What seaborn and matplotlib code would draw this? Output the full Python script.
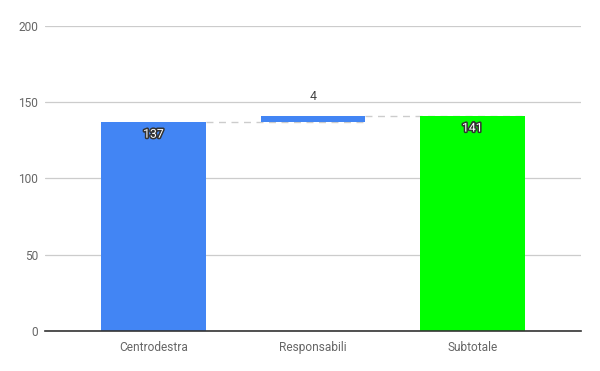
import matplotlib
matplotlib.use("Agg")
import matplotlib.pyplot as plt
import matplotlib.patheffects as pe
import seaborn as sns

# dati del grafico a cascata
categorie = ["Centrodestra", "Responsabili", "Subtotale"]
valori = [137, 4, 141]
basi = [0, 137, 0]
colori = ["#4285f4", "#4285f4", "#00ff00"]
etichette = ["137", "4", "141"]

sns.set_theme(style="white")
plt.rcParams["font.family"] = ["Roboto", "DejaVu Sans"]

fig = plt.figure(figsize=(6, 3.71), dpi=100)
ax = fig.add_axes([0.075, 0.108, 0.893, 0.822])

for i, cat in enumerate(categorie):
    sns.barplot(x=[cat], y=[valori[i]], order=categorie, bottom=basi[i],
                color=colori[i], saturation=1, width=0.655, linewidth=0,
                ax=ax, zorder=2)

# linee tratteggiate di collegamento
for i in range(len(categorie) - 1):
    livello = basi[i] + valori[i]
    ax.plot([i + 0.327, i + 1 + 0.327], [livello, livello], ls=(0, (5, 4)),
            color="#cccccc", lw=1, zorder=1)

# etichette dei valori
for i, testo in enumerate(etichette):
    top = basi[i] + valori[i]
    if i == 1:
        ax.text(i, top + 13, testo, ha="center", va="center",
                fontsize=8.8, color="#444444")
    else:
        ax.text(i, top - 8, testo, ha="center", va="center", fontsize=8.8,
                color="white",
                path_effects=[pe.withStroke(linewidth=2.2, foreground="#333333")])

ax.set_ylim(0, 200)
ax.set_yticks([0, 50, 100, 150, 200])
ax.set_xlim(-0.68, 2.68)
ax.yaxis.grid(True, color="#cccccc", lw=0.9, zorder=0)
ax.set_axisbelow(True)
for s in ["top", "right", "left"]:
    ax.spines[s].set_visible(False)
ax.spines["bottom"].set_color("#333333")
ax.spines["bottom"].set_linewidth(1.2)
ax.tick_params(axis="both", length=0, labelsize=8.6, labelcolor="#666666")
ax.tick_params(axis="x", pad=7)
ax.tick_params(axis="y", pad=5)
ax.set_xlabel("")
ax.set_ylabel("")

plt.savefig("out.png", dpi=100)
